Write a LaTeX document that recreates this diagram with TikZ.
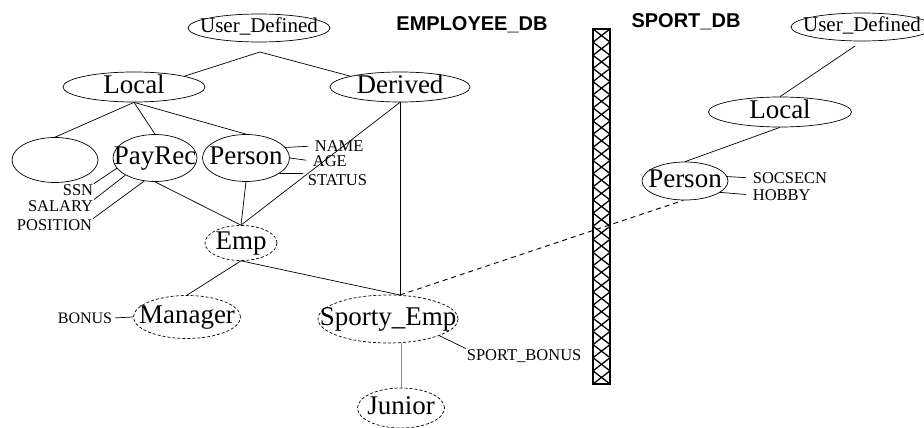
\documentclass[tikz,border=0pt]{standalone}
\usepackage{fontspec}
\setmainfont{Liberation Serif}
\newfontfamily\dbfont{Liberation Sans}
\usetikzlibrary{shapes.geometric,positioning,calc}

\begin{document}
\begin{tikzpicture}
[x=1pt,y=-1pt,inner sep=0pt,line width=0.7pt,
class/.style={ellipse,draw,
  label={[font=\fontsize{27}{27}\selectfont,text height=18pt,text depth=5pt]center:#1}},
virtual/.style={class=#1,dash pattern=on 3pt off 2pt},
root/.style={ellipse,draw,minimum width=142,minimum height=28,
  label={[font=\fontsize{21}{21}\selectfont,text height=14pt,text depth=4pt]center:#1}},
attr/.style={font=\fontsize{16.5}{16.5}\selectfont,inner sep=0.5pt},
dbname/.style={font=\dbfont\bfseries\fontsize{20}{20}\selectfont},
crosslink/.style={line width=0.9pt,dash pattern=on 5pt off 4pt}]
\useasboundingbox (0,0) rectangle (924,428);
% EMPLOYEE_DB
\node[root=User\_Defined] (udl) at (259,28) {};
\node[class=Local,minimum width=142,minimum height=30] (local) at (134,87) {};
\node[class=Derived,minimum width=140,minimum height=30] (derived) at (400,87) {};
\node[class=,minimum width=86,minimum height=45] (anon) at (55,160) {};
\node[class=PayRec,minimum width=84,minimum height=47] (payrec) at (155,158) {};
\node[class=Person,minimum width=87,minimum height=47] (person) at (246,158) {};
\node[virtual=Emp,minimum width=72,minimum height=35] (emp) at (241,243) {};
\node[virtual=Manager,minimum width=107,minimum height=43] (manager) at (187,317) {};
\node[virtual=Sporty\_Emp,minimum width=140,minimum height=48] (sporty) at (388,319) {};
\node[virtual=Junior,minimum width=87,minimum height=40] (junior) at (401,408) {};
\coordinate (udj) at (260,52);
\coordinate (sj) at (400,295);
\draw (udj) -- (local.north east);
\draw (udj) -- (derived.north west);
\draw (local.south) -- (anon.north);
\draw (local.south) -- (payrec.north);
\draw (local.south) -- (person.north);
\draw (payrec.south) -- (emp.north);
\draw (person.south) -- (emp.north);
\draw (derived.south) -- (emp.north);
\draw (derived.south) -- (sj);
\draw (emp.south) -- (manager.north);
\draw (emp.south) -- (sj);
\draw[black!45] (sporty.south -| junior.north) -- (junior.north);
% attributes
\node[attr,anchor=west] (name) at (314,146) {NAME};
\node[attr,anchor=west] (age) at (312,161) {AGE};
\node[attr,anchor=west] (status) at (307,180) {STATUS};
\node[attr,anchor=east] (ssn) at (94,190) {SSN};
\node[attr,anchor=east] (salary) at (94,206) {SALARY};
\node[attr,anchor=east] (position) at (93,225) {POSITION};
\node[attr,font=\fontsize{16}{16}\selectfont,anchor=east] (bonus) at (113,318) {BONUS};
\node[attr,anchor=west] (sbonus) at (466,356) {SPORT\_BONUS};
\draw[shorten >=6pt] (person.15) -- (name.west);
\draw[shorten >=6pt] (person.east) -- (age.west);
\draw[shorten >=4pt] (person.-25) -- (status.north west);
\draw (ssn.north east) -- (payrec.-165);
\draw (salary.north east) -- (payrec.-150);
\draw (position.north east) -- (payrec.-115);
\draw[shorten <=2pt] (bonus.east) -- (manager.west);
\draw (sporty.-18) -- (sbonus.north west);
% partition
\node[dbname] (empdb) at (472,25) {EMPLOYEE\_DB};
\node[dbname] (sportdb) at (686,22) {SPORT\_DB};
\foreach \i in {0,...,26}{
  \pgfmathsetmacro\ya{29+13.148*\i}
  \pgfmathsetmacro\yb{\ya+13.148}
  \draw[line width=1.3pt] (593,\ya) -- (610,\yb) (610,\ya) -- (593,\yb);
}
\draw[line width=1.6pt] (593,29) rectangle (610,384);
% SPORT_DB
\node[root=User\_Defined] (udr) at (862,27) {};
\node[class=Local,minimum width=143,minimum height=30] (localr) at (780,112) {};
\node[class=Person,minimum width=86,minimum height=38] (personr) at (685,181) {};
\draw[shorten <=8pt] (udr.south) -- (localr.north);
\draw (localr.south) -- (personr.north);
\node[attr,anchor=west] (socsecn) at (752,178) {SOCSECN};
\node[attr,anchor=west] (hobby) at (752,195) {HOBBY};
\draw[shorten >=6pt] (personr.6) -- (socsecn.west);
\draw[shorten >=6pt] (personr.-18) -- (hobby.west);
\draw[crosslink] (sj) -- (personr.-95);
\end{tikzpicture}
\end{document}
